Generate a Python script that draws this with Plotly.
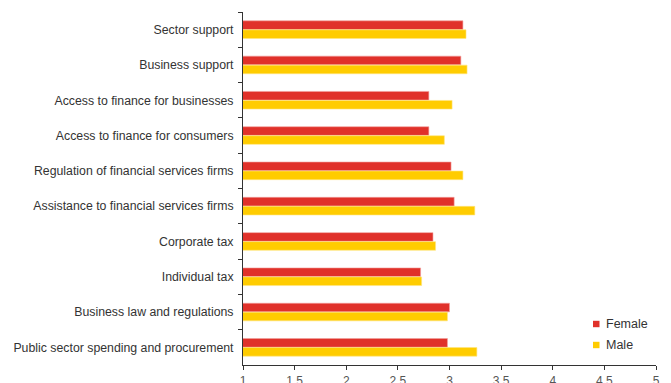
import plotly.graph_objects as go

categories = [
    "Sector support",
    "Business support",
    "Access to finance for businesses",
    "Access to finance for consumers",
    "Regulation of financial services firms",
    "Assistance to financial services firms",
    "Corporate tax",
    "Individual tax",
    "Business law and regulations",
    "Public sector spending and procurement",
]
female = [3.13, 3.11, 2.80, 2.80, 3.015, 3.045, 2.84, 2.72, 3.00, 2.98]
male = [3.16, 3.17, 3.025, 2.95, 3.13, 3.245, 2.865, 2.73, 2.98, 3.265]
series_names = ["Female", "Male"]

RED = "#E0312A"
YELLOW = "#FFCC00"
FONT = "Liberation Sans, Arial, sans-serif"
W, H = 671, 383
M = dict(l=243, r=15, t=12, b=18)

fig = go.Figure()
fig.add_trace(go.Bar(
    y=categories, x=female, name=series_names[0], orientation="h",
    marker=dict(color=RED, line=dict(color="#F2A09C", width=0.6)),
))
fig.add_trace(go.Bar(
    y=categories, x=male, name=series_names[1], orientation="h",
    marker=dict(color=YELLOW, line=dict(color="#FFE680", width=0.6)),
))

# compact legend: small square key followed closely by the label
pw = W - M["l"] - M["r"]
ph = H - M["t"] - M["b"]
key_x = 593 - M["l"]
for i, (name, col) in enumerate(zip(series_names, [RED, YELLOW])):
    cy = 324 + i * 21 - M["t"]
    fig.add_shape(
        type="rect", xref="paper", yref="paper",
        x0=key_x / pw, x1=(key_x + 6.5) / pw,
        y0=1 - (cy + 3.2) / ph, y1=1 - (cy - 3.2) / ph,
        fillcolor=col, line=dict(width=0),
    )
    fig.add_annotation(
        xref="paper", yref="paper", x=(key_x + 11) / pw, y=1 - cy / ph,
        text=name, showarrow=False, xanchor="left", yanchor="middle",
        font=dict(size=12.5, color="#333333"),
    )

fig.update_layout(
    width=W, height=H,
    margin=dict(**M, autoexpand=False),
    plot_bgcolor="white", paper_bgcolor="white",
    barmode="group", bargap=0.49, bargroupgap=0.04,
    font=dict(family=FONT, size=12, color="#333333"),
    showlegend=False,
)
fig.update_xaxes(
    range=[1, 5], dtick=0.5, tick0=1, automargin=False,
    showgrid=False, zeroline=False,
    showline=True, linecolor="#333333", linewidth=1,
    ticks="outside", ticklen=4, tickcolor="#333333",
    ticklabelstandoff=1,
    tickfont=dict(size=12, color="#555555"),
)
fig.update_yaxes(
    autorange="reversed", showgrid=False, automargin=False,
    showline=True, linecolor="#333333", linewidth=1,
    ticks="outside", ticklen=4, tickcolor="#333333",
    tickson="boundaries", ticklabelstandoff=6,
    tickfont=dict(size=12.3, color="#333333"),
)

fig.write_html("out.html")
